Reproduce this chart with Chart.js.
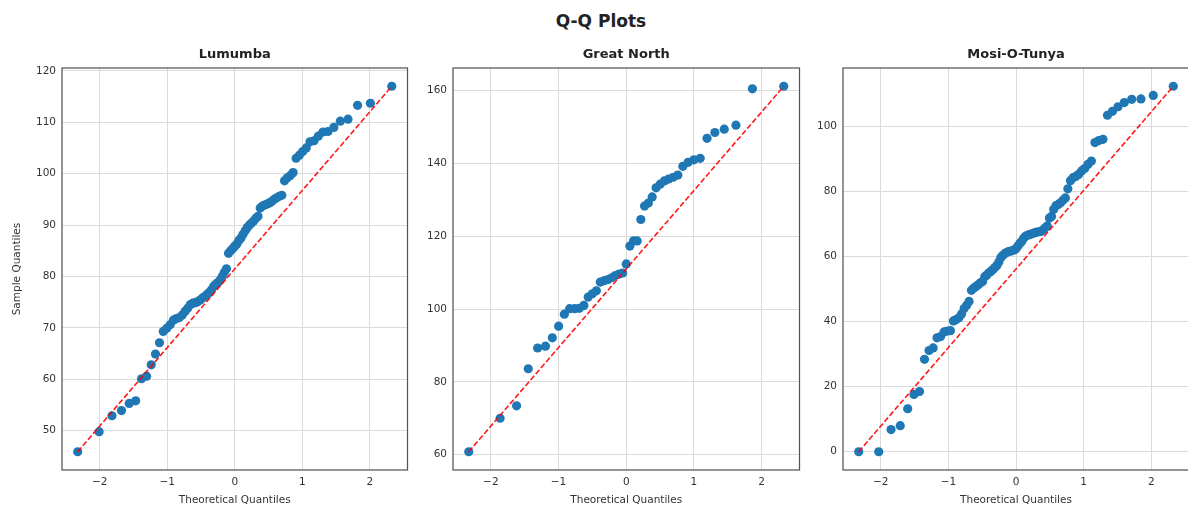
<!DOCTYPE html>
<html>
<head>
<meta charset="utf-8">
<script src="https://cdn.jsdelivr.net/npm/chart.js@4.4.1/dist/chart.umd.min.js"></script>
<style>
  html, body { margin: 0; padding: 0; background: #fff; overflow: hidden; width: 1188px; height: 511px; }
  #suptitle { position: absolute; top: 11px; left: 601px; transform: translateX(-50%);
              font: bold 17px "DejaVu Sans"; color: #222; white-space: nowrap; }
  canvas { position: absolute; }
</style>
</head>
<body>
<div id="suptitle">Q-Q Plots</div>
<canvas id="qq1" width="418" height="471" style="left:0px;top:40px"></canvas>
<canvas id="qq2" width="397" height="471" style="left:413px;top:40px"></canvas>
<canvas id="qq3" width="396" height="471" style="left:803px;top:40px"></canvas>
<script>
// theoretical quantiles (x) and sorted sample quantiles (y)
const lumumbaTheo = [-2.326, -2.009, -1.819, -1.677, -1.563, -1.467, -1.381, -1.306, -1.237, -1.174,
  -1.115, -1.059, -1.007, -0.957, -0.909, -0.864, -0.820, -0.778, -0.737, -0.697,
  -0.659, -0.621, -0.584, -0.548, -0.513, -0.478, -0.444, -0.410, -0.377, -0.344,
  -0.312, -0.280, -0.248, -0.217, -0.185, -0.154, -0.123, -0.092, -0.061, -0.031, 0,
  0.031, 0.061, 0.092, 0.123, 0.154, 0.185, 0.217, 0.248, 0.280, 0.312,
  0.344, 0.377, 0.410, 0.444, 0.478, 0.513, 0.548, 0.584, 0.621, 0.659,
  0.697, 0.737, 0.778, 0.820, 0.864, 0.909, 0.957, 1.007, 1.059, 1.115,
  1.174, 1.237, 1.306, 1.381, 1.467, 1.563, 1.677, 1.819, 2.009, 2.326];
const lumumbaSample = [45.9, 49.8, 52.9, 53.9, 55.3, 55.8, 60.1, 60.6, 62.8, 64.9,
  67.1, 69.3, 69.9, 70.6, 71.5, 71.8, 72.0, 72.5, 73.2, 73.8,
  74.5, 74.8, 74.9, 75.1, 75.4, 75.8, 76.1, 76.5, 76.9, 77.4,
  78.1, 78.5, 78.8, 79.3, 80.0, 80.8, 81.5, 84.5, 85.0, 85.4, 85.9,
  86.3, 87.0, 87.5, 88.2, 88.9, 89.5, 90.0, 90.4, 90.8, 91.3,
  91.7, 93.3, 93.7, 93.9, 94.1, 94.3, 94.6, 95.0, 95.3, 95.6,
  95.8, 98.6, 99.2, 99.6, 100.2, 103.0, 103.6, 104.3, 105.0, 106.2,
  106.4, 107.3, 108.1, 108.2, 109.0, 110.2, 110.6, 113.3, 113.7, 117.0];

const greatNorthTheo = [-2.326, -1.863, -1.620, -1.447, -1.309, -1.193, -1.092, -0.999, -0.914, -0.836,
  -0.762, -0.693, -0.626, -0.562, -0.501, -0.441, -0.383, -0.326, -0.270, -0.215,
  -0.161, -0.107, -0.053, 0, 0.053, 0.107, 0.161, 0.215, 0.270, 0.326,
  0.383, 0.441, 0.501, 0.562, 0.626, 0.693, 0.762, 0.836, 0.914, 0.999,
  1.092, 1.193, 1.309, 1.447, 1.620, 1.863, 2.326];
const greatNorthSample = [60.8, 70.0, 73.4, 83.6, 89.3, 89.8, 92.1, 95.3, 98.6, 100.1,
  100.1, 100.2, 101.0, 103.3, 104.2, 105.0, 107.4, 107.8, 108.1, 108.6,
  109.2, 109.6, 109.9, 112.4, 117.3, 118.7, 118.7, 124.6, 128.3, 129.1,
  130.8, 133.3, 134.3, 135.2, 135.7, 136.2, 136.8, 139.2, 140.3, 141.0,
  141.4, 146.9, 148.5, 149.4, 150.5, 160.5, 161.2];

const mosiTheo = [-2.326, -2.030, -1.848, -1.712, -1.602, -1.509, -1.427, -1.353, -1.286, -1.225,
  -1.168, -1.115, -1.064, -1.016, -0.970, -0.926, -0.885, -0.844, -0.805, -0.767,
  -0.730, -0.694, -0.659, -0.625, -0.591, -0.558, -0.525, -0.494, -0.462, -0.432,
  -0.401, -0.371, -0.341, -0.312, -0.283, -0.254, -0.225, -0.197, -0.168, -0.140,
  -0.112, -0.084, -0.056, -0.028, 0, 0.028, 0.056, 0.084, 0.112, 0.140,
  0.168, 0.197, 0.225, 0.254, 0.283, 0.312, 0.341, 0.371, 0.401, 0.432,
  0.462, 0.494, 0.525, 0.558, 0.591, 0.625, 0.659, 0.694, 0.730, 0.767,
  0.805, 0.844, 0.885, 0.926, 0.970, 1.016, 1.064, 1.115, 1.168, 1.225,
  1.286, 1.353, 1.427, 1.509, 1.602, 1.712, 1.848, 2.030, 2.326];
const mosiSample = [0.0, 0.0, 6.8, 8.0, 13.2, 17.6, 18.5, 28.4, 31.1, 31.9,
  35.0, 35.4, 36.8, 37.1, 37.2, 40.2, 40.6, 41.2, 42.3, 44.0,
  45.0, 46.2, 49.6, 50.3, 50.8, 51.3, 51.9, 52.3, 53.8, 54.3,
  55.0, 55.4, 56.0, 56.6, 57.2, 58.3, 59.6, 60.3, 60.8, 61.2,
  61.5, 61.6, 61.8, 62.0, 62.4, 63.2, 64.0, 64.6, 65.6, 66.2,
  66.5, 66.7, 66.9, 67.1, 67.3, 67.5, 67.6, 67.7, 68.2, 68.8,
  69.4, 71.8, 72.3, 74.5, 75.6, 76.0, 76.5, 77.3, 78.0, 80.8,
  83.3, 84.2, 84.6, 85.2, 86.3, 87.0, 88.3, 89.3, 95.0, 95.6,
  96.0, 103.4, 104.6, 106.0, 107.3, 108.3, 108.4, 109.5, 112.3];

const xTicks = [-2, -1, 0, 1, 2];
const lumumbaTicks = [50, 60, 70, 80, 90, 100, 110, 120];
const greatNorthTicks = [60, 80, 100, 120, 140, 160];
const mosiTicks = [0, 20, 40, 60, 80, 100];

const tickFont = { family: 'DejaVu Sans', size: 10.5 };
const minus = v => (v < 0 ? '\u2212' + Math.abs(v) : String(v));

// box round the plot area + subplot title centred on it
const framePlugin = {
  id: 'frame',
  afterDraw(chart, args, opts) {
    const { ctx, chartArea: a } = chart;
    ctx.save();
    ctx.strokeStyle = '#555';
    ctx.lineWidth = 1.25;
    ctx.strokeRect(a.left, a.top, a.right - a.left, a.bottom - a.top);
    ctx.fillStyle = '#222';
    ctx.font = 'bold 13px "DejaVu Sans"';
    ctx.textAlign = 'center';
    ctx.textBaseline = 'middle';
    ctx.fillText(opts.text, (a.left + a.right) / 2, a.top - 13);
    ctx.restore();
  }
};

function makeQQ(id, title, xs, ys, yTicks, yTitle, yWidth, padRight) {
  const n = xs.length;
  const yPad = (Math.max(...ys) - Math.min(...ys)) * 0.05;
  const xPad = (xs[n - 1] - xs[0]) * 0.05;
  return new Chart(document.getElementById(id), {
    type: 'scatter',
    data: {
      datasets: [{
        type: 'line',
        data: [{ x: xs[0], y: ys[0] }, { x: xs[n - 1], y: ys[n - 1] }],
        borderColor: 'rgba(255, 0, 0, 0.9)',
        borderWidth: 1.6,
        borderDash: [5.5, 2.4],
        pointRadius: 0,
        fill: false
      }, {
        data: xs.map((x, i) => ({ x: x, y: ys[i] })),
        backgroundColor: '#1f77b4',
        borderWidth: 0,
        pointRadius: 4.6,
        pointHoverRadius: 4.6
      }]
    },
    options: {
      responsive: false,
      animation: false,
      devicePixelRatio: 1,
      layout: { padding: { top: 28, right: padRight, left: 0, bottom: 0 } },
      plugins: {
        legend: { display: false },
        tooltip: { enabled: false },
        frame: { text: title }
      },
      scales: {
        x: {
          type: 'linear',
          min: xs[0] - xPad,
          max: xs[n - 1] + xPad,
          afterBuildTicks: s => { s.ticks = xTicks.map(v => ({ value: v })); },
          afterFit: s => { s.height = 41; },
          grid: { color: '#dadada', lineWidth: 1, drawTicks: false },
          border: { display: false },
          ticks: { padding: 6, color: '#333', font: tickFont, callback: v => minus(v) },
          title: { display: true, text: 'Theoretical Quantiles', color: '#333', font: tickFont,
                   padding: { top: 0, bottom: 4 } }
        },
        y: {
          type: 'linear',
          min: Math.min(...ys) - yPad,
          max: Math.max(...ys) + yPad,
          afterBuildTicks: s => { s.ticks = yTicks.map(v => ({ value: v })); },
          afterFit: s => { s.width = yWidth; },
          grid: { color: '#dadada', lineWidth: 1, drawTicks: false },
          border: { display: false },
          ticks: { padding: 6, color: '#333', font: tickFont, callback: v => minus(v) },
          title: { display: !!yTitle, text: yTitle || '', color: '#333', font: tickFont,
                   padding: { top: 10.5, bottom: 0 } }
        }
      }
    },
    plugins: [framePlugin]
  });
}

makeQQ('qq1', 'Lumumba', lumumbaTheo, lumumbaSample, lumumbaTicks, 'Sample Quantiles', 62, 10.5);
makeQQ('qq2', 'Great North', greatNorthTheo, greatNorthSample, greatNorthTicks, null, 40, 10.5);
makeQQ('qq3', 'Mosi-O-Tunya', mosiTheo, mosiSample, mosiTicks, null, 40, 10);
</script>
</body>
</html>
